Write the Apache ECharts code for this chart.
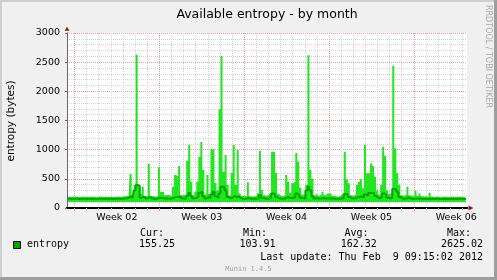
<!DOCTYPE html>
<html>
<head>
<meta charset="utf-8">
<script src="https://cdn.jsdelivr.net/npm/echarts@6/dist/echarts.min.js"></script>
<style>
html,body{margin:0;padding:0;background:#f0f0f0;}
#chart{width:497px;height:280px;}
</style>
</head>
<body>
<div id="chart"></div>
<script>
// ---------- data ----------
const titleText = 'Available entropy - by month';
const yAxisName = 'entropy (bytes)';
const seriesName = 'entropy';
const weekLabels = ['Week 02', 'Week 03', 'Week 04', 'Week 05', 'Week 06'];
const yMin = 0, yMax = 3000, yStep = 500;
const spanHours = 792;          // 33 days shown
const slotHours = 4;            // one value every 4 hours
const lastUpdateUTC = [2012, 1, 9, 9, 15, 2];

// peak (max) entropy per 4h slot
const entropyMax = [
  190,192,188,190,195,190,188,192,190,190,
  188,190,192,190,186,190,195,192,190,188,
  190,192,190,188,190,195,190,192,200,205,
  210,583,220,394,2625.02,394,240,366,210,200,
  754,210,200,195,200,697,280,280,220,230,
  220,210,360,566,540,720,220,230,210,811,
  1080,451,220,280,451,880,1131,651,230,566,
  240,1006,1006,428,300,1692,2605,623,908,400,
  220,600,1080,400,994,250,210,200,205,440,
  200,195,200,210,251,982,308,220,210,230,
  260,965,965,600,240,210,200,220,566,451,
  260,423,451,943,794,350,230,220,400,2620,
  651,500,220,251,210,230,280,220,250,250,
  250,210,200,195,200,230,240,965,491,423,
  220,210,230,394,451,491,337,1080,594,600,
  765,720,537,300,230,400,1051,891,300,240,
  260,2434,1023,594,400,220,210,230,366,220,
  210,200,297,210,250,200,195,200,190,260,
  195,190,192,190,188,190,192,190,188,190,
  192,190,188,190,192,190,188,190
];
// average entropy per 4h slot
const entropyAvg = [
  158,157,156,158,159,157,156,158,157,156,
  157,158,156,157,158,160,158,157,156,157,
  158,157,156,158,157,159,158,160,162,165,
  170,200,168,300,394,380,175,190,168,162,
  190,165,160,158,162,180,170,168,162,165,
  160,162,175,190,190,195,165,163,160,210,
  257,200,165,170,190,257,280,200,165,180,
  170,230,280,200,175,250,366,366,300,190,
  165,180,210,185,200,170,160,158,160,175,
  158,157,158,160,165,220,170,162,160,163,
  170,250,240,190,165,160,158,162,185,180,
  165,175,180,250,220,175,165,162,300,366,
  300,200,165,168,160,162,170,162,165,165,
  163,160,158,157,158,162,165,240,240,190,
  165,162,165,185,190,200,180,230,210,257,
  257,257,210,180,165,185,250,230,180,165,
  170,325,325,280,190,165,160,162,180,162,
  160,158,165,160,162,158,157,158,156,160,
  157,156,158,157,156,155,157,156,158,156,
  157,156,155,157,156,155,156,155.25
];
const legendHeads = ['Cur:', 'Min:', 'Avg:', 'Max:'];
const legendValues = [155.25, 103.91, 162.32, 2625.02];
const lastUpdateText = 'Last update: Thu Feb  9 09:15:02 2012';
const watermarkText = 'RRDTOOL / TOBI OETIKER';
const versionText = 'Munin 1.4.5';

// ---------- styles ----------
const BRIGHT = '#22e622';
const DARK = '#00a800';
const MGRID = '#e8a0a0';
const GRID = '#d4d4d4';
const ARROW = '#7f1f1f';
const SANS = '"DejaVu Sans", sans-serif';
const MONO = '"DejaVu Sans Mono", monospace';

// ---------- time grid (hours since start) ----------
const endMs = Date.UTC.apply(null, lastUpdateUTC);
const startMs = endMs - spanHours * 3600e3;
const dayLines = [], weekLines = [], weekLabelPos = [];
const first = new Date(startMs); first.setUTCHours(24, 0, 0, 0);
for (let t = first.getTime(); t < endMs; t += 86400e3) {
  const h = (t - startMs) / 3600e3;
  dayLines.push(h);
  if (new Date(t).getUTCDay() === 0) { weekLines.push(h); weekLabelPos.push(h + 84); }
}
function weekLabelFor(v) {
  let best = 0;
  weekLabelPos.forEach((p, i) => { if (Math.abs(p - v) < Math.abs(weekLabelPos[best] - v)) best = i; });
  return weekLabels[best];
}

const maxData = entropyMax.map((v, i) => [i * slotHours + slotHours / 2, v]);
const avgData = entropyAvg.map((v, i) => [i * slotHours + slotHours / 2, v]);

const chart = echarts.init(document.getElementById('chart'), null, {renderer: 'canvas'});

const baseX = {type: 'value', min: 0, max: spanHours, position: 'bottom', gridIndex: 0};

const legendX = [140, 243, 344.5, 447];
const legendVX = [139, 239.5, 340.7, 441];

const graphics = [
  {type: 'rect', shape: {x: 0, y: 0, width: 497, height: 2}, style: {fill: '#cfcfcf'}, silent: true},
  {type: 'rect', shape: {x: 0, y: 0, width: 2, height: 280}, style: {fill: '#cfcfcf'}, silent: true},
  {type: 'rect', shape: {x: 0, y: 277, width: 497, height: 3}, style: {fill: '#9e9e9e'}, silent: true},
  {type: 'rect', shape: {x: 494, y: 0, width: 3, height: 280}, style: {fill: '#9e9e9e'}, silent: true},
  {type: 'text', x: 267, y: 14.3, style: {text: titleText, fill: '#000', font: '12.5px ' + SANS, align: 'center', verticalAlign: 'middle'}},
  {type: 'text', x: 11, y: 121, rotation: Math.PI / 2, style: {text: yAxisName, fill: '#000', font: '10.5px ' + SANS, align: 'center', verticalAlign: 'middle'}},
  {type: 'text', x: 488.5, y: 56.5, rotation: -Math.PI / 2, style: {text: watermarkText, fill: '#a8a8a8', font: '8px ' + SANS, align: 'center', verticalAlign: 'middle'}},
  {type: 'rect', shape: {x: 13.5, y: 241.5, width: 7, height: 7}, style: {fill: DARK, stroke: '#000', lineWidth: 1}},
  {type: 'text', x: 27, y: 244.7, style: {text: seriesName, fill: '#000', font: '10px ' + MONO, align: 'left', verticalAlign: 'middle'}},
  {type: 'text', x: 483, y: 257.2, style: {text: lastUpdateText, fill: '#000', font: '10px ' + MONO, align: 'right', verticalAlign: 'middle'}},
  {type: 'text', x: 248.5, y: 269, style: {text: versionText, fill: '#a0a0a0', font: '7px ' + MONO, align: 'center', verticalAlign: 'middle'}}
];
legendHeads.forEach((h, i) => {
  graphics.push({type: 'text', x: legendX[i], y: 233.2, style: {text: h, fill: '#000', font: '10px ' + MONO, align: 'left', verticalAlign: 'middle'}});
  graphics.push({type: 'text', x: legendVX[i], y: 244.7, style: {text: legendValues[i].toFixed(2), fill: '#000', font: '10px ' + MONO, align: 'left', verticalAlign: 'middle'}});
});

chart.setOption({
  animation: false,
  backgroundColor: '#f0f0f0',
  grid: {left: 67, right: 30, top: 33, bottom: 72, show: true, backgroundColor: '#ffffff', borderWidth: 0, containLabel: false, outerBoundsMode: 'none'},
  xAxis: [
    Object.assign({}, baseX, {
      axisLine: {show: true, onZero: false, symbol: ['none', 'triangle'], symbolSize: [5, 5], symbolOffset: [0, 4], lineStyle: {color: ARROW, width: 2}},
      axisTick: {show: true, customValues: dayLines, length: 2, lineStyle: {color: '#bbbbbb'}},
      axisLabel: {show: false},
      splitLine: {show: true, lineStyle: {color: GRID, type: 'dotted', width: 1}}
    }),
    Object.assign({}, baseX, {
      axisLine: {show: false, onZero: false},
      axisTick: {show: true, customValues: weekLines, length: 3, lineStyle: {color: MGRID}},
      axisLabel: {show: false},
      splitLine: {show: true, lineStyle: {color: MGRID, type: 'dotted', width: 1}}
    }),
    Object.assign({}, baseX, {
      axisLine: {show: true, onZero: false, lineStyle: {color: '#000', width: 2}},
      axisTick: {show: false, customValues: weekLabelPos},
      axisLabel: {show: true, customValues: weekLabelPos, formatter: weekLabelFor, margin: 5, color: '#000', fontFamily: SANS, fontSize: 9.5},
      splitLine: {show: false}
    })
  ],
  yAxis: [
    {
      type: 'value', min: yMin, max: yMax, interval: yStep, position: 'left',
      axisLine: {show: true, onZero: false, symbol: ['none', 'triangle'], symbolSize: [5, 4], symbolOffset: [0, 4.3], lineStyle: {color: ARROW, width: 1}},
      axisTick: {show: true, length: 2, lineStyle: {color: '#666'}},
      minorTick: {show: false, splitNumber: 5},
      axisLabel: {margin: 7, color: '#000', fontFamily: SANS, fontSize: 9.5, formatter: v => String(v)},
      splitLine: {show: true, lineStyle: {color: MGRID, type: 'dotted', width: 1}},
      minorSplitLine: {show: true, lineStyle: {color: GRID, type: 'dotted', width: 1}}
    },
    {
      type: 'value', min: yMin, max: yMax, interval: yStep, position: 'left',
      axisLine: {show: true, onZero: false, lineStyle: {color: '#666666', width: 1}},
      axisTick: {show: false}, axisLabel: {show: false}, splitLine: {show: false}
    }
  ],
  series: [
    {
      name: seriesName + ' max', type: 'line', xAxisIndex: 0, yAxisIndex: 0, data: maxData,
      step: 'middle', symbol: 'none', showSymbol: false, silent: true, z: 3,
      lineStyle: {color: BRIGHT, width: 0},
      areaStyle: {color: BRIGHT, opacity: 1, origin: legendValues[1]}
    },
    {
      name: seriesName, type: 'line', xAxisIndex: 0, yAxisIndex: 0, data: avgData,
      step: 'middle', symbol: 'none', showSymbol: false, silent: true, z: 4,
      lineStyle: {color: DARK, width: 2}
    }
  ],
  graphic: graphics
});
</script>
</body>
</html>
